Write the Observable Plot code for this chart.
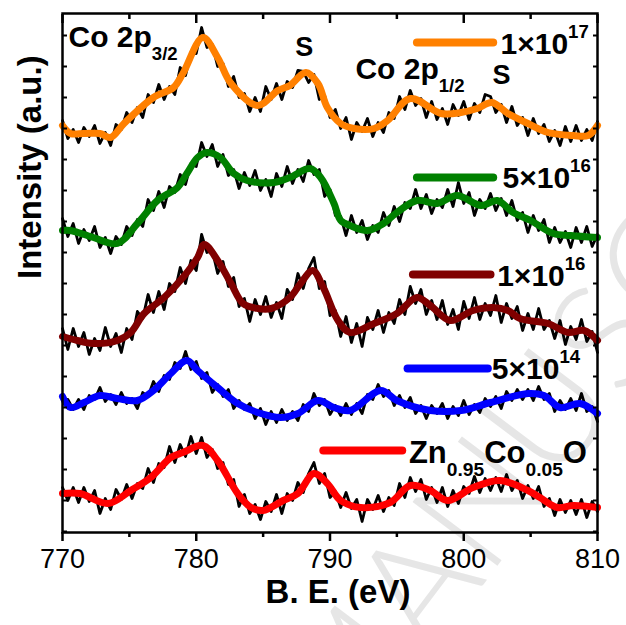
<!DOCTYPE html>
<html><head><meta charset="utf-8">
<script src="https://cdn.jsdelivr.net/npm/d3@7"></script>
<script src="https://cdn.jsdelivr.net/npm/@observablehq/plot@0.6"></script>
<style>body{margin:0;background:#fff}#chart{width:626px;height:625px}</style>
</head><body><div id="chart"></div>
<script>
// Binding energy grid of the raw (noisy) spectra, eV
const energies = [770,770.4,770.8,771.2,771.6,772,772.4,772.8,773.2,773.6,774,774.4,774.8,775.2,775.6,776,776.4,776.8,777.2,777.6,778,778.4,778.8,779.2,779.6,780,780.4,780.8,781.2,781.6,782,782.4,782.8,783.2,783.6,784,784.4,784.8,785.2,785.6,786,786.4,786.8,787.2,787.6,788,788.4,788.8,789.2,789.6,790,790.4,790.8,791.2,791.6,792,792.4,792.8,793.2,793.6,794,794.4,794.8,795.2,795.6,796,796.4,796.8,797.2,797.6,798,798.4,798.8,799.2,799.6,800,800.4,800.8,801.2,801.6,802,802.4,802.8,803.2,803.6,804,804.4,804.8,805.2,805.6,806,806.4,806.8,807.2,807.6,808,808.4,808.8,809.2,809.6,810];

// Raw spectra (stacked, a.u.)
const orangeRaw = [412,394,403,390,405,396,407,389,400,387,408,403,420,410,425,415,438,430,448,433,446,438,465,457,480,479,505,485,488,466,469,446,456,435,439,421,435,421,446,433,449,433,451,445,462,461,450,458,433,437,415,423,404,415,393,410,401,414,396,410,400,420,414,436,423,442,427,434,415,431,413,424,408,428,417,431,413,429,420,438,436,420,428,410,426,407,415,397,414,399,408,391,402,387,406,391,407,392,403,392,411];
const greenRaw = [314,296,309,289,303,292,306,285,295,279,296,288,306,297,313,306,333,322,341,325,346,340,358,348,369,366,390,376,388,366,378,357,363,344,360,347,362,342,353,336,359,346,366,349,363,351,372,358,363,336,343,317,316,297,317,300,312,293,307,300,320,307,326,311,330,324,343,324,338,319,333,325,343,326,350,329,340,317,333,324,339,322,334,317,332,312,320,300,317,302,313,290,305,290,301,285,305,290,306,286,298];
const maroonRaw = [204,183,204,186,200,178,194,182,205,186,199,180,204,193,221,214,238,220,241,223,249,241,265,249,272,262,298,280,282,259,271,246,255,226,234,211,233,218,236,215,230,214,243,233,259,244,264,275,244,251,217,222,196,216,190,209,186,215,203,222,200,220,209,233,218,246,229,243,218,232,213,232,208,223,203,231,214,235,213,229,217,237,210,229,214,226,202,219,203,224,203,212,194,212,188,206,193,213,191,201,180];
const blueRaw = [132,133,123,133,123,137,133,145,131,138,128,140,129,134,124,140,136,151,141,157,153,170,164,181,163,171,154,160,140,148,136,143,124,132,123,129,114,124,108,121,110,123,112,121,112,128,121,139,127,133,118,127,117,129,118,129,119,138,133,148,136,142,127,137,125,135,119,127,114,127,119,129,114,126,117,132,118,128,120,134,126,136,124,141,132,143,133,143,132,146,133,139,121,132,123,134,122,139,121,126,111];
const redRaw = [45,32,45,30,45,31,42,19,34,23,43,33,48,34,49,44,64,50,69,65,86,70,88,76,96,79,95,75,83,64,70,48,53,26,38,19,28,13,31,21,38,19,39,32,50,40,59,70,49,59,35,41,25,40,24,33,11,33,23,37,21,35,27,49,35,55,41,53,33,45,30,45,26,42,29,46,39,56,40,54,42,55,41,58,42,52,34,47,34,46,26,34,17,33,20,32,18,33,15,31,21];

// Smoothed fits
const orangeFitE = [770.0,770.6,771.6,772.8,773.6,774.6,776.8,778.3,779.0,780.5,781.6,782.6,784.6,786.1,787.0,788.2,789.1,789.8,790.8,791.8,793.3,794.3,796.0,798.3,799.8,801.0,802.1,803.3,804.8,806.3,808.2,809.3,810.0];
const orangeFit = [407,399,399,399,395,409,435,445,459,495,475,449,427,442,447,460,449,425,409,404,404,412,434,419,420,424,430,419,409,400,397,397,407];
const greenFitE = [770.0,770.6,772.3,774.1,775.6,777.1,778.6,779.3,780.1,780.8,781.8,782.8,783.8,785.8,787.0,788.5,789.3,790.3,790.8,791.5,792.8,794.0,795.0,796.5,798.0,799.5,801.3,802.5,803.7,805.0,806.7,808.0,810.0];
const greenFit = [302,302,295,289,309,332,345,359,375,380,375,359,352,350,355,364,355,329,312,307,302,309,320,332,329,337,327,332,320,312,299,297,295];
const maroonFitE = [770.0,771.1,772.3,774.1,775.1,776.1,777.6,779.0,780.1,780.6,781.6,782.6,783.5,784.6,785.6,787.0,787.8,788.7,789.5,790.6,791.5,793.3,795.0,796.5,797.5,799.0,800.7,802.2,803.3,804.2,806.3,807.8,809.0,810.0];
const maroonFit = [196,192,189,192,200,219,235,255,275,288,272,249,229,224,224,235,249,262,245,212,200,209,219,235,227,212,222,225,222,214,209,200,202,192];
const blueFitE = [770.0,770.6,771.6,772.8,774.1,775.6,776.8,778.1,779.3,780.1,781.6,783.1,784.6,786.3,787.6,789.1,790.3,791.5,793.8,795.0,797.5,799.8,802.0,804.8,806.0,807.2,808.7,810.0];
const blueFit = [136,125,130,137,134,132,142,159,172,162,145,129,120,115,119,132,125,122,142,132,122,122,130,139,137,125,129,119];
const redFitE = [770.0,771.3,773.4,775.1,776.6,778.1,779.0,780.5,781.6,783.1,784.1,785.0,786.5,787.6,788.8,789.8,790.8,792.3,794.5,796.0,797.5,798.8,800.7,802.7,804.8,805.7,807.0,808.2,810.0];
const redFit = [39,39,29,42,55,75,80,87,72,39,25,22,32,39,59,49,32,25,30,47,42,32,45,52,42,35,25,27,25];

// Legend labels and tick labels
const seriesLabels = ["1×10^{17}", "5×10^{16}", "1×10^{16}", "5×10^{14}", "Zn_{0.95}Co_{0.05}O"];
const seriesColors = ["#ff8000", "#008000", "#800000", "#0000ff", "#ff0000"];
const xTicksMajor = [770, 780, 790, 800, 810];
const xTicksMinor = [775, 785, 795, 805];

const series = [
  {raw: orangeRaw, fitE: orangeFitE, fit: orangeFit},
  {raw: greenRaw, fitE: greenFitE, fit: greenFit},
  {raw: maroonRaw, fitE: maroonFitE, fit: maroonFit},
  {raw: blueRaw, fitE: blueFitE, fit: blueFit},
  {raw: redRaw, fitE: redFitE, fit: redFit}
].map((s, i) => ({...s, color: seriesColors[i], label: seriesLabels[i]}));

// layout (legend keys & annotations in data units)
const legendLayout = [
  {e1: 796.5, e2: 802.2, v: 490, te: 802.75, tv: 479},
  {e1: 796.5, e2: 802.2, v: 355, te: 802.9, tv: 345},
  {e1: 796.2, e2: 802.0, v: 258, te: 802.5, tv: 247},
  {e1: 795.8, e2: 801.8, v: 164, te: 802.1, tv: 154},
  {e1: 789.5, e2: 795.4, v: 82, te: 795.9, tv: 70}
];
const legendRows = legendLayout.map((l, i) => ({...l, color: series[i].color, t: series[i].label}));
const notes = [
  {e: 770.45, v: 486, t: "Co 2p_{3/2}", fs: 30},
  {e: 787.4, v: 477, t: "S", fs: 27},
  {e: 791.9, v: 454, t: "Co 2p_{1/2}", fs: 30},
  {e: 802.15, v: 449, t: "S", fs: 27}
];
const yTicks = d3.range(497, 0, -31);

const marks = [
  Plot.text([{e: 809.6, v: 172, t: "MANUSCRIPT"}], {x: "e", y: "v", text: "t", rotate: -53, fontSize: 150, fontFamily: "Lato, 'Open Sans', sans-serif", fontWeight: 300, fill: "#e6e6e6", textAnchor: "middle", lineAnchor: "middle"})
];
for (const s of series) {
  marks.push(
    Plot.line(energies.map((e, i) => ({e, v: s.raw[i]})), {x: "e", y: "v", stroke: "black", strokeWidth: 2.8, strokeLinejoin: "round"}),
    Plot.line(s.fitE.map((e, i) => ({e, v: s.fit[i]})), {x: "e", y: "v", stroke: s.color, strokeWidth: 7, curve: "catmull-rom", strokeLinejoin: "round", strokeLinecap: "round"})
  );
}
marks.push(
  Plot.link(legendRows, {x1: "e1", x2: "e2", y1: "v", y2: "v", stroke: "color", strokeWidth: 8, strokeLinecap: "round"}),
  Plot.text(legendRows.slice(0, 4), {x: "te", y: "tv", text: "t", textAnchor: "start", lineAnchor: "bottom", fontSize: 30, fontWeight: "bold"}),
  Plot.text(legendRows.slice(4), {x: "te", y: "tv", text: "t", textAnchor: "start", lineAnchor: "bottom", fontSize: 31, fontWeight: "bold"}),
  Plot.text(notes, {x: "e", y: "v", text: "t", textAnchor: "start", lineAnchor: "bottom", fontSize: d => d.fs, fontWeight: "bold"}),
  Plot.frame({strokeWidth: 2.5}),
  Plot.axisX(xTicksMajor, {anchor: "bottom", tickSize: 9, tickPadding: 7, fontSize: 27, strokeWidth: 2.5, label: null}),
  Plot.axisX(xTicksMinor, {anchor: "bottom", tickSize: 5, tickFormat: () => "", strokeWidth: 2.5, label: null}),
  Plot.axisX(xTicksMajor, {anchor: "top", tickSize: 9, dy: 9, tickFormat: () => "", strokeWidth: 2.5, label: null}),
  Plot.axisX(xTicksMinor, {anchor: "top", tickSize: 5, dy: 5, tickFormat: () => "", strokeWidth: 2.5, label: null}),
  Plot.axisY(yTicks, {anchor: "left", tickSize: 5, dx: 5, tickFormat: () => "", strokeWidth: 2, label: null}),
  Plot.axisY(yTicks, {anchor: "right", tickSize: 5, dx: -5, tickFormat: () => "", strokeWidth: 2, label: null}),
  Plot.text(["B. E. (eV)"], {frameAnchor: "bottom", dy: 70, dx: 8, fontSize: 33, fontWeight: "bold"}),
  Plot.text(["Intensity (a.u.)"], {frameAnchor: "left", rotate: -90, dx: -32, dy: 6, fontSize: 33, fontWeight: "bold"})
);

const svg = Plot.plot({
  width: 626, height: 625,
  marginLeft: 62, marginRight: 29, marginTop: 13, marginBottom: 93,
  x: {domain: [770, 810]},
  y: {domain: [0, 519]},
  color: {type: "identity"},
  style: {fontFamily: "'Liberation Sans', Arial, sans-serif", background: "white", color: "black"},
  marks
});
document.getElementById("chart").append(svg);

// sub/superscripts as tspans
function richify(root) {
  for (const t of root.querySelectorAll("text")) {
    const s = t.textContent;
    if (!/[\^_]\{/.test(s)) continue;
    const S = parseFloat(getComputedStyle(t).fontSize) || 30;
    const parts = s.split(/([\^_]\{[^}]*\})/).filter(p => p);
    while (t.firstChild) t.removeChild(t.firstChild);
    let shift = 0;
    for (const p of parts) {
      const ts = document.createElementNS("http://www.w3.org/2000/svg", "tspan");
      let target = 0, txt = p, size = null;
      if (p.startsWith("^{")) { target = -0.52 * S; txt = p.slice(2, -1); size = 0.62 * S; }
      else if (p.startsWith("_{")) { target = 0.45 * S; txt = p.slice(2, -1); size = 0.62 * S; }
      ts.setAttribute("dy", target - shift);
      shift = target;
      if (size) ts.setAttribute("font-size", size);
      ts.textContent = txt;
      t.appendChild(ts);
    }
  }
}
richify(svg);
</script></body></html>
